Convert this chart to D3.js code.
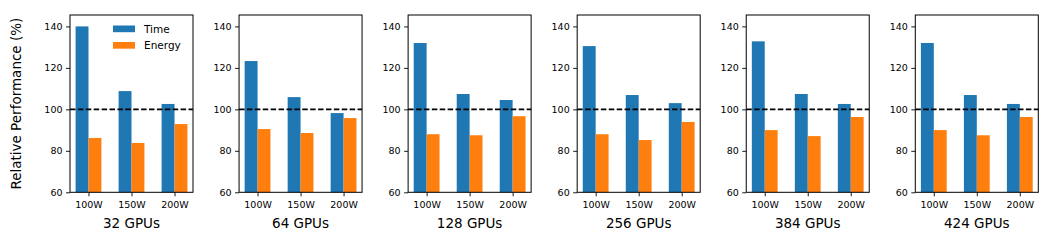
<!DOCTYPE html>
<html>
<head>
<meta charset="utf-8">
<script src="https://cdn.jsdelivr.net/npm/d3@7"></script>
<style>
  body { margin: 0; background: #fff; }
  text { font-family: "DejaVu Sans", sans-serif; fill: #000; }
</style>
</head>
<body>
<div id="chart"></div>
<script>
// data
var gpuLabels = ["32 GPUs", "64 GPUs", "128 GPUs", "256 GPUs", "384 GPUs", "424 GPUs"];
var powerCaps = ["100W", "150W", "200W"];
var timeValues = [
  [140.0, 108.8, 102.6],
  [123.3, 105.9, 98.2],
  [132.0, 107.4, 104.5],
  [130.5, 106.9, 103.0],
  [132.8, 107.4, 102.6],
  [132.0, 106.9, 102.6]
];
var energyValues = [
  [86.2, 83.8, 92.9],
  [90.5, 88.6, 95.8],
  [88.0, 87.5, 96.7],
  [88.0, 85.2, 93.9],
  [90.0, 87.1, 96.3],
  [90.0, 87.5, 96.3]
];
var yTicks = [60, 80, 100, 120, 140];
var baseline = 100;
var seriesNames = ["Time", "Energy"];
var colors = ["#1f77b4", "#ff7f0e"];

var width = 1058, height = 241;
var panelLeft = 70, panelStep = 169.06, panelW = 123;
var plotTop = 15, plotBottom = 192.3;
var barW = 0.3;

var svg = d3.select("#chart").append("svg")
  .attr("width", width)
  .attr("height", height);

var y = d3.scaleLinear().domain([60, 145.5]).range([plotBottom, plotTop]);

gpuLabels.forEach(function (label, p) {
  var x0 = panelLeft + p * panelStep;
  var x = d3.scaleLinear().domain([-0.43, 2.43]).range([x0, x0 + panelW]);
  var g = svg.append("g");

  // time bars (left of tick), energy bars (right of tick)
  g.selectAll(".time")
    .data(timeValues[p])
    .enter().append("rect")
    .attr("x", function (d, i) { return x(i - barW); })
    .attr("y", function (d) { return y(d); })
    .attr("width", function (d, i) { return x(i) - x(i - barW); })
    .attr("height", function (d) { return y(60) - y(d); })
    .attr("fill", colors[0]);

  g.selectAll(".energy")
    .data(energyValues[p])
    .enter().append("rect")
    .attr("x", function (d, i) { return x(i); })
    .attr("y", function (d) { return y(d); })
    .attr("width", function (d, i) { return x(i + barW) - x(i); })
    .attr("height", function (d) { return y(60) - y(d); })
    .attr("fill", colors[1]);

  // dashed line at 100%
  g.append("line")
    .attr("x1", x0).attr("x2", x0 + panelW)
    .attr("y1", y(baseline)).attr("y2", y(baseline))
    .attr("stroke", "#000")
    .attr("stroke-width", 1.6)
    .attr("stroke-dasharray", "5.5,2.4");

  // axes
  var yAxis = g.append("g")
    .attr("transform", "translate(" + x0 + ",0)")
    .call(d3.axisLeft(y).tickValues(yTicks).tickSize(4).tickPadding(3.5));
  yAxis.select(".domain").remove();
  yAxis.selectAll("text").style("font-size", "9.5px").attr("fill", "#000");

  var xAxis = g.append("g")
    .attr("transform", "translate(0," + plotBottom + ")")
    .call(d3.axisBottom(x).tickValues([0, 1, 2]).tickFormat(function (d) { return powerCaps[d]; })
      .tickSize(4).tickPadding(5));
  xAxis.select(".domain").remove();
  xAxis.selectAll("text").style("font-size", "9.5px").attr("fill", "#000");
  g.selectAll(".tick line").attr("stroke", "#000").attr("stroke-width", 0.9);

  // frame
  g.append("rect")
    .attr("x", x0).attr("y", plotTop)
    .attr("width", panelW).attr("height", plotBottom - plotTop)
    .attr("fill", "none")
    .attr("stroke", "#000")
    .attr("stroke-width", 1);

  g.append("text")
    .attr("x", x0 + panelW / 2)
    .attr("y", 228)
    .attr("text-anchor", "middle")
    .style("font-size", "13.5px")
    .text(label);
});

// y axis title
svg.append("text")
  .attr("transform", "translate(21," + ((plotTop + plotBottom) / 2) + ") rotate(-90)")
  .attr("text-anchor", "middle")
  .style("font-size", "13.5px")
  .text("Relative Performance (%)");

// legend in first panel
var legend = svg.append("g").attr("transform", "translate(113,25.5)");
seriesNames.forEach(function (name, i) {
  legend.append("rect")
    .attr("x", 0).attr("y", i * 16.5)
    .attr("width", 22).attr("height", 6.7)
    .attr("fill", colors[i]);
  legend.append("text")
    .attr("x", 31).attr("y", i * 16.5 + 3.4)
    .attr("dominant-baseline", "central")
    .style("font-size", "10.5px")
    .text(name);
});
</script>
</body>
</html>
